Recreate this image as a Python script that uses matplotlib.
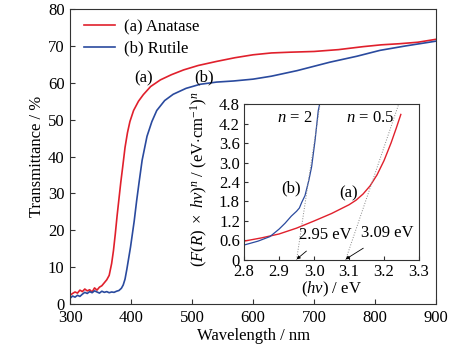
import matplotlib
matplotlib.use("Agg")
import matplotlib.pyplot as plt
import numpy as np

plt.rcParams['font.family'] = ['Liberation Serif', 'DejaVu Serif']
plt.rcParams['mathtext.fontset'] = 'custom'
plt.rcParams['mathtext.rm'] = 'Liberation Serif'
plt.rcParams['mathtext.it'] = 'Liberation Serif:italic'
plt.rcParams['font.size'] = 12

RED = '#e0202c'
BLUE = '#2a4a9e'

# transmittance spectra (wavelength nm, %)
wl_a = [300, 304, 308, 312, 316, 320, 324, 328, 332, 336, 340, 344, 348, 352, 356,
        360, 364, 368, 371, 374, 377, 380, 383, 386, 390, 394, 398, 404, 412, 420,
        432, 448, 466, 486, 510, 540, 570, 600, 630, 660, 700, 740, 780, 810, 840, 870, 900]
tr_a = [2.4, 2.9, 3.3, 3.0, 3.8, 3.4, 4.1, 3.6, 3.9, 3.3, 4.4, 3.8, 4.6, 5.0, 5.8,
        6.6, 7.8, 11.0, 14.5, 19.0, 24.0, 28.5, 33.0, 37.0, 42.5, 46.5, 49.5, 52.5, 55.0, 56.8,
        59.0, 60.8, 62.2, 63.5, 64.7, 65.8, 66.8, 67.6, 68.1, 68.3, 68.5, 69.0, 69.8, 70.3, 70.6, 71.0, 71.8]

wl_b = [300, 304, 308, 312, 316, 320, 324, 328, 332, 336, 340, 344, 348, 352, 356,
        360, 364, 368, 372, 376, 380, 384, 387, 390, 393, 396, 399, 402, 405, 409,
        413, 418, 426, 434, 442, 455, 469, 490, 513, 540, 568, 600, 630, 672, 726, 770, 808, 850, 900]
tr_b = [1.6, 2.2, 1.9, 2.4, 2.1, 2.7, 3.2, 2.9, 3.4, 3.1, 3.6, 3.3, 3.0, 3.5, 3.2,
        3.4, 3.1, 3.3, 3.2, 3.5, 3.7, 4.3, 5.2, 6.8, 9.5, 12.5, 15.5, 19.0, 22.5, 28.0,
        33.0, 39.0, 45.5, 49.5, 52.5, 55.2, 56.9, 58.5, 59.6, 60.2, 60.5, 61.0, 61.8, 63.3, 65.6, 67.2, 68.8, 70.0, 71.3]

# Tauc plots (photon energy eV, (F(R) x hv)^n)
hv_a = [2.80, 2.85, 2.90, 2.95, 3.00, 3.05, 3.10, 3.12, 3.14, 3.16, 3.18, 3.20, 3.22, 3.235, 3.248]
f_a = [0.58, 0.68, 0.80, 0.98, 1.20, 1.43, 1.70, 1.84, 2.03, 2.28, 2.62, 3.06, 3.60, 4.06, 4.48]

hv_b = [2.80, 2.84, 2.874, 2.90, 2.917, 2.935, 2.95, 2.958, 2.965, 2.974, 2.985, 2.993, 3.003, 3.012, 3.016]
f_b = [0.46, 0.58, 0.72, 0.95, 1.13, 1.35, 1.50, 1.60, 1.78, 1.98, 2.45, 2.87, 3.70, 4.60, 4.80]

# band gaps from the linear extrapolations
gaps = [3.09, 2.95]
tangent_top = [3.242, 3.017]

fig = plt.figure(figsize=(4.74, 3.48), dpi=100)
ax = fig.add_axes([0.148, 0.126, 0.772, 0.848])
ax.plot(wl_a, tr_a, color=RED, lw=1.2, label='(a) Anatase')
ax.plot(wl_b, tr_b, color=BLUE, lw=1.2, label='(b) Rutile')
ax.set_xlim(300, 900)
ax.set_ylim(0, 80)
ax.set_xticks(range(300, 901, 100))
ax.set_yticks(range(0, 81, 10))
ax.tick_params(direction='in', length=3.5, color='#333333', pad=4)
for s in ax.spines.values():
    s.set_color('#333333')
ax.set_xlabel('Wavelength / nm', labelpad=2)
ax.set_ylabel('Transmittance / %', labelpad=2)
ax.legend(loc='upper left', frameon=False, handlelength=1.9, handletextpad=0.5,
          borderaxespad=0.2, labelspacing=0.35, bbox_to_anchor=(0.01, 1.0))
ax.text(420, 61.2, '(a)', ha='center', va='center')
ax.text(520, 61.4, '(b)', ha='center', va='center')

ins = fig.add_axes([0.515, 0.253, 0.369, 0.448])
ins.plot(hv_a, f_a, color=RED, lw=1.0)
ins.plot(hv_b, f_b, color=BLUE, lw=0.9)
for g, t in zip(gaps, tangent_top):
    ins.plot([g, t], [0, 4.8], color='#888888', lw=0.7, ls=':')
ins.set_xlim(2.8, 3.3)
ins.set_ylim(0, 4.8)
ins.set_xticks(np.arange(2.8, 3.31, 0.1))
ins.set_yticks(np.arange(0, 4.81, 0.6))
ins.set_yticklabels(['0'] + ['%.1f' % v for v in np.arange(0.6, 4.81, 0.6)])
ins.tick_params(direction='in', length=3, color='#333333', pad=3)
for s in ins.spines.values():
    s.set_color('#333333')
ins.set_xlabel(r'($hv$) / eV', labelpad=0)
ins.set_ylabel(r'$(F(R)\ \times\ hv)^n$ / (eV$\cdot$cm$^{-1}$)$^n$')
ins.yaxis.set_label_coords(-0.195, 0.52)
ins.text(2.996, 4.38, r'$n$ = 2', ha='right', va='center')
ins.text(3.228, 4.38, r'$n$ = 0.5', ha='right', va='center')
ins.text(2.934, 2.2, '(b)', ha='center', va='center')
ins.text(3.10, 2.05, '(a)', ha='center', va='center')
ins.annotate('2.95 eV', xy=(gaps[1], 0.02), xytext=(2.958, 0.77), va='center', ha='left',
             arrowprops=dict(arrowstyle='-|>', color='black', lw=0.6, mutation_scale=5,
                             shrinkA=6, shrinkB=0))
ins.annotate('3.09 eV', xy=(gaps[0], 0.02), xytext=(3.135, 0.83), va='center', ha='left',
             arrowprops=dict(arrowstyle='-|>', color='black', lw=0.6, mutation_scale=5,
                             shrinkA=6, shrinkB=0))

fig.savefig('out.png', dpi=100)
